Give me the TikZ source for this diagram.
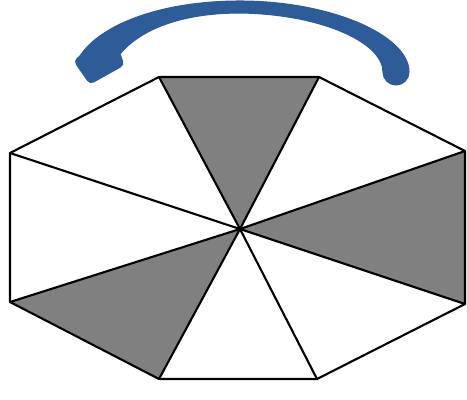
\documentclass[tikz,border=0pt]{standalone}
\definecolor{sectorgray}{RGB}{128,128,128}
\definecolor{arrowblue}{RGB}{46,92,153}
\begin{document}
\begin{tikzpicture}[x=0.01cm,y=0.01cm,
  edge/.style={draw=black,line width=0.6pt,line join=round},
  graysector/.style={fill=sectorgray},
  turnarrow/.style={fill=arrowblue,draw=arrowblue,line width=0.3pt,line join=round}]
\useasboundingbox (0,0) rectangle (467,399);
\fill[white] (0,0) rectangle (467,399);
\coordinate (C) at (240,170);
\coordinate (TL) at (159,322);
\coordinate (TR) at (319,322);
\coordinate (RU) at (465,248);
\coordinate (RL) at (465,95);
\coordinate (BR) at (317,20);
\coordinate (BL) at (159,20);
\coordinate (LL) at (10,97);
\coordinate (LU) at (10,246);
% gray sectors
\fill[graysector] (C) -- (TL) -- (TR) -- cycle;
\fill[graysector] (C) -- (RU) -- (RL) -- cycle;
\fill[graysector] (C) -- (LL) -- (BL) -- cycle;
% outline
\draw[edge] (TL) -- (TR) -- (RU) -- (RL) -- (BR) -- (BL) -- (LL) -- (LU) -- cycle;
% spokes
\foreach \v in {TL,TR,RU,RL,BR,BL,LL,LU}
  \draw[edge] (C) -- (\v);
% rotation arrow (curved block arrow)
\path[turnarrow]
  (409,327) .. controls (409,364) and (330,398) .. (240,398)
  .. controls (160,398) and (100,374) .. (80,343)
  [rounded corners=1.2] -- (74,338) -- (90,315) -- (124,334) [sharp corners] -- (120,345)
  .. controls (140,369) and (180,386) .. (240,386)
  .. controls (320,385) and (383,357) .. (383,327)
  arc[start angle=180,end angle=360,radius=13] -- cycle;
\end{tikzpicture}
\end{document}
